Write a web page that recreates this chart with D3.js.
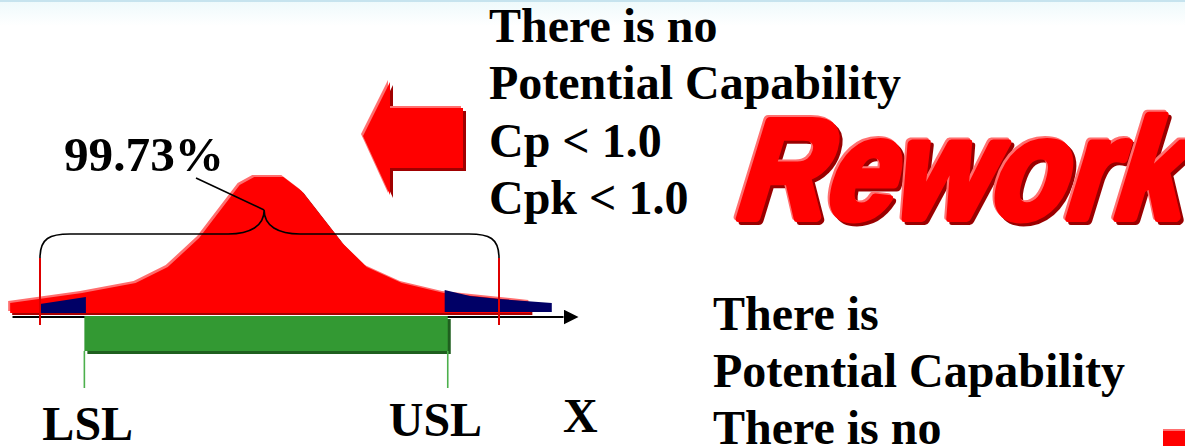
<!DOCTYPE html>
<html>
<head>
<meta charset="utf-8">
<script src="https://cdn.jsdelivr.net/npm/d3@7"></script>
<style>
  html, body { margin: 0; padding: 0; background: #fff; }
  svg { display: block; }
  .big { font-family: "Liberation Serif", "Times New Roman", serif; font-weight: bold; font-size: 48px; fill: #000; }
</style>
</head>
<body>
<svg id="chart"></svg>
<script>
// distribution outline, x in sigma units, height relative to peak
const sigmaPts = [-3.39, -2.45, -1.75, -1.33, -0.92, -0.39, -0.20, 0.18, 0.42, 0.95, 1.27, 1.73, 2.28, 3.41];
const relFreq  = [0.074, 0.147, 0.221, 0.338, 0.551, 0.941, 1.0, 1.0, 0.897, 0.515, 0.338, 0.221, 0.147, 0.081];

// out of spec tails
const leftTailX  = [-3.0, -2.40];
const leftTailY  = [0.066, 0.118];
const rightTailX = [2.29, 2.62, 3.0, 3.69];
const rightTailY = [0.162, 0.118, 0.096, 0.066];

const specLimits = [-2.42, 2.33];
const specLabels = ["LSL", "USL"];
const threeSigma = [-3, 3];
const spreadLabel = "99.73%";
const axisLabel = "X";

const topLines = ["There is no", "Potential Capability", "Cp < 1.0", "Cpk < 1.0"];
const bottomLines = ["There is", "Potential Capability", "There is no"];
const stamp = "Rework";

const W = 1185, H = 446;
const svg = d3.select("#chart").attr("width", W).attr("height", H);

const x = d3.scaleLinear().domain([-3, 3]).range([40, 499]);
const y = d3.scaleLinear().domain([0, 1]).range([313, 177]);

// faint header band
const defs = svg.append("defs");
const grad = defs.append("linearGradient").attr("id", "hdr").attr("x1", 0).attr("x2", 0).attr("y1", 0).attr("y2", 1);
grad.append("stop").attr("offset", "0%").attr("stop-color", "#edf9fb");
grad.append("stop").attr("offset", "100%").attr("stop-color", "#ffffff");
svg.append("rect").attr("x", 0).attr("y", 0).attr("width", W).attr("height", 26).attr("fill", "url(#hdr)");
svg.append("rect").attr("x", 0).attr("y", 0).attr("width", W).attr("height", 2).attr("fill", "#c6e3ee");

defs.append("marker").attr("id", "arrow")
  .attr("viewBox", "0 0 10 10").attr("refX", 0).attr("refY", 5)
  .attr("markerWidth", 15).attr("markerHeight", 15).attr("markerUnits", "userSpaceOnUse")
  .attr("orient", "auto")
  .append("path").attr("d", "M0,0L10,5L0,10z").attr("fill", "#000");

// distribution
const curve = d3.zip(sigmaPts, relFreq);
const area = d3.area().x(d => x(d[0])).y0(y(0)).y1(d => y(d[1]));

svg.append("path").datum(curve).attr("d", area).attr("fill", "#a80000").attr("transform", "translate(2,2)");
svg.append("path").datum(curve).attr("d", area).attr("fill", "#ff6e6e").attr("transform", "translate(-2,-2)");
svg.append("path").datum(curve).attr("d", area).attr("fill", "#ff0000");

// x axis with arrow
const xa = d3.scaleLinear().domain([x.invert(12), x.invert(563)]).range([12, 563]);
const axisG = svg.append("g").attr("transform", "translate(0,316.5)")
  .call(d3.axisBottom(xa).tickValues([]).tickSizeOuter(0));
axisG.select(".domain").attr("stroke", "#000").attr("stroke-width", 2).attr("marker-end", "url(#arrow)");

// tails
const tailArea = d3.area().x(d => x(d[0])).y0(y(0)).y1(d => y(d[1]));
svg.append("path").datum(d3.zip(leftTailX, leftTailY)).attr("d", tailArea).attr("fill", "#000066");
svg.append("path").datum(d3.zip(rightTailX, rightTailY)).attr("d", tailArea).attr("fill", "#000066").attr("transform", "translate(0,-1)");

// +-3 sigma ticks
svg.selectAll(".sig").data(threeSigma).join("line")
  .attr("x1", d => x(d)).attr("x2", d => x(d))
  .attr("y1", 258).attr("y2", 325)
  .attr("stroke", "#dd0000").attr("stroke-width", 2);

// brace over the 99.73% spread
const xl = x(threeSigma[0]), xr = x(threeSigma[1]), xm = x(-0.07);
const yb = 234, yt = 210, ye = 258;
const bp = d3.path();
bp.moveTo(xl, ye);
bp.bezierCurveTo(xl, yb + 4, xl + 10, yb, xl + 30, yb);
bp.lineTo(xm - 36, yb);
bp.bezierCurveTo(xm - 14, yb, xm, yb - 8, xm, yt);
bp.bezierCurveTo(xm, yb - 8, xm + 14, yb, xm + 36, yb);
bp.lineTo(xr - 30, yb);
bp.bezierCurveTo(xr - 10, yb, xr, yb + 4, xr, ye);
svg.append("path").attr("d", bp.toString()).attr("fill", "none").attr("stroke", "#000").attr("stroke-width", 1.6);
svg.append("line").attr("x1", xm).attr("y1", yt).attr("x2", 196).attr("y2", 178)
  .attr("stroke", "#000").attr("stroke-width", 1.6);
svg.append("text").attr("class", "big").attr("x", 64).attr("y", 171)
  .attr("textLength", 160).attr("lengthAdjust", "spacingAndGlyphs").text(spreadLabel);

// spec band
const sx0 = x(specLimits[0]), sx1 = x(specLimits[1]);
svg.append("rect").attr("x", sx0 + 3).attr("y", 319).attr("width", sx1 - sx0).attr("height", 35).attr("fill", "#1f5f1f");
svg.append("rect").attr("x", sx0).attr("y", 316).attr("width", sx1 - sx0).attr("height", 35).attr("fill", "#339933");
svg.selectAll(".spec").data(specLimits).join("line")
  .attr("x1", d => x(d)).attr("x2", d => x(d))
  .attr("y1", 351).attr("y2", 388)
  .attr("stroke", "#4cb04c").attr("stroke-width", 1.6);

const labelDx = [-42, -59];
const labelY = [440, 436];
svg.selectAll(".specLbl").data(specLabels).join("text")
  .attr("class", "big")
  .attr("x", (d, i) => x(specLimits[i]) + labelDx[i])
  .attr("y", (d, i) => labelY[i])
  .text(d => d);
svg.append("text").attr("class", "big").attr("x", 563).attr("y", 432).text(axisLabel);

// big arrow pointing left
const arrowPts = [[363, 136], [390, 82], [390, 108], [463, 108], [463, 168], [390, 168], [390, 195]];
const line = d3.line().curve(d3.curveLinearClosed);
svg.append("path").attr("d", line(arrowPts)).attr("fill", "#a00000").attr("transform", "translate(3,3)");
svg.append("path").attr("d", line(arrowPts)).attr("fill", "#ff7070").attr("transform", "translate(-2,-2)");
svg.append("path").attr("d", line(arrowPts)).attr("fill", "#ff0000");

// text blocks
svg.selectAll(".top").data(topLines).join("text")
  .attr("class", "big").attr("x", 489).attr("y", (d, i) => 42 + i * 57.4).text(d => d);
svg.selectAll(".bot").data(bottomLines).join("text")
  .attr("class", "big").attr("x", 713).attr("y", (d, i) => 330 + i * 57).text(d => d);

// Rework stamp: heavy, slanted, with highlight and shadow
const stampStyle = [["#990000", 3, 3], ["#ff7070", -2, -2], ["#ff0000", 0, 0]];
svg.selectAll(".stamp").data(stampStyle).join("g")
  .attr("transform", d => `translate(${731 + d[1]},${218 + d[2]}) skewX(-17)`)
  .append("text")
  .attr("x", 0).attr("y", 0)
  .attr("textLength", 446).attr("lengthAdjust", "spacingAndGlyphs")
  .style("font-family", "'Liberation Sans', Arial, sans-serif")
  .style("font-weight", "bold").style("font-size", "141px")
  .attr("fill", d => d[0]).attr("stroke", d => d[0])
  .attr("stroke-width", 8).attr("stroke-linejoin", "round")
  .text(stamp);

// corner square
svg.append("rect").attr("x", 1163).attr("y", 429).attr("width", 22).attr("height", 17).attr("fill", "#ff0000");
svg.append("rect").attr("x", 1163).attr("y", 429).attr("width", 22).attr("height", 2).attr("fill", "#ff7070");
</script>
</body>
</html>
